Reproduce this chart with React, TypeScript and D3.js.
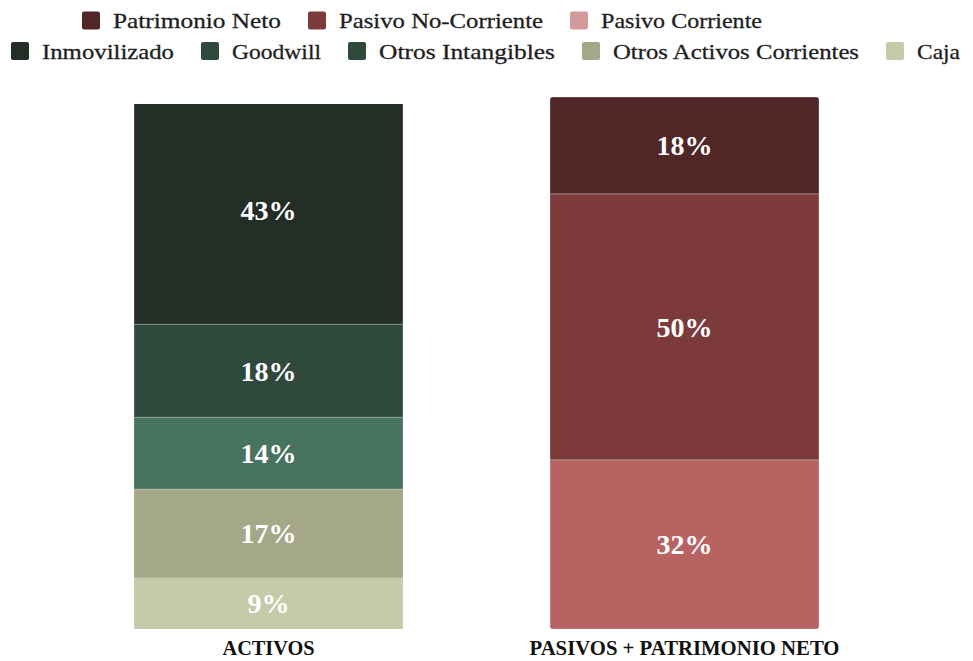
import React from "react";
import * as d3 from "d3";

const categories = ["ACTIVOS", "PASIVOS + PATRIMONIO NETO"];
const categoryLabelWidths = [92, 310];

// stacked bottom -> top
const activosSeries = ["Caja", "Otros Activos Corrientes", "Otros Intangibles", "Goodwill", "Inmovilizado"];
const activosValues = [9.6, 16.7, 13.5, 17.5, 42.7];
const activosLabels = ["9%", "17%", "14%", "18%", "43%"];
const activosColors = ["#c7caa8", "#a5a888", "#48735e", "#2f4a3d", "#222e26"];

const pasivosSeries = ["Pasivo Corriente", "Pasivo No-Corriente", "Patrimonio Neto"];
const pasivosValues = [31.8, 50.0, 18.2];
const pasivosLabels = ["32%", "50%", "18%"];
const pasivosColors = ["#b86362", "#7c3a3b", "#512627"];

const legendRow1 = ["Patrimonio Neto", "Pasivo No-Corriente", "Pasivo Corriente"];
const legendRow1Colors = ["#512627", "#7c3a3b", "#d49a9b"];
const legendRow1Widths = [168, 204, 161];
const legendRow2 = ["Inmovilizado", "Goodwill", "Otros Intangibles", "Otros Activos Corrientes", "Caja"];
const legendRow2Colors = ["#222e26", "#2f4a3d", "#2f4a3d", "#a5a888", "#c7caa8"];
const legendRow2Widths = [132, 89, 176, 246, 43];

const W = 973;
const H = 661;
const FONT = "'Liberation Serif', 'Times New Roman', serif";

function LegendRow({ names, colors, widths, x0, cy }: any) {
  let x = x0;
  const items = names.map((n: string, i: number) => {
    const sx = x;
    const tx = sx + 31;
    x = tx + widths[i] + 27;
    return (
      <g key={n}>
        <rect x={sx} y={cy - 9} width={18} height={18} rx={2} fill={colors[i]} />
        <text
          x={tx}
          y={cy + 7.5}
          fontFamily={FONT}
          fontSize={22}
          fill="#1e1e1e"
          stroke="#1e1e1e"
          strokeWidth={0.3}
          textLength={widths[i]}
          lengthAdjust="spacingAndGlyphs"
        >
          {n}
        </text>
      </g>
    );
  });
  return <g>{items}</g>;
}

export default function App() {
  const x = d3.scaleBand<string>().domain(categories).range([134, 819]).paddingInner(0.3534).paddingOuter(0);
  const y = d3.scaleLinear().domain([0, 100]).range([629, 97]);

  const stacks = [
    { cat: categories[0], values: activosValues, labels: activosLabels, colors: activosColors, topInset: 7, round: 0 },
    { cat: categories[1], values: pasivosValues, labels: pasivosLabels, colors: pasivosColors, topInset: 0, round: 3 },
  ];

  return (
    <svg width={W} height={H} style={{ position: "absolute", left: 0, top: 0 }}>
      <defs>
        {stacks.map((s, si) => {
          const total = d3.sum(s.values);
          return (
            <clipPath id={`clip${si}`} key={si}>
              <rect
                x={x(s.cat)}
                y={y(total) + s.topInset}
                width={x.bandwidth()}
                height={y(0) - y(total) - s.topInset}
                rx={s.round}
              />
            </clipPath>
          );
        })}
      </defs>
      <rect x={0} y={0} width={W} height={H} fill="#ffffff" />
      <LegendRow names={legendRow1} colors={legendRow1Colors} widths={legendRow1Widths} x0={82} cy={20.5} />
      <LegendRow names={legendRow2} colors={legendRow2Colors} widths={legendRow2Widths} x0={11} cy={51} />

      {stacks.map((s, si) => {
        const cum = d3.cumsum(s.values);
        const bx = x(s.cat) as number;
        const bw = x.bandwidth();
        return (
          <g key={s.cat}>
            <g clipPath={`url(#clip${si})`}>
              {s.values.map((v, i) => {
                const y0 = y(cum[i] - v);
                const y1 = y(cum[i]);
                return (
                  <rect
                    key={i}
                    x={bx}
                    y={y1}
                    width={bw}
                    height={y0 - y1}
                    fill={s.colors[i]}
                    stroke="rgba(210,210,210,0.35)"
                    strokeWidth={1}
                  />
                );
              })}
            </g>
            {s.values.map((v, i) => {
              const yc = (y(cum[i] - v) + y(cum[i])) / 2;
              return (
                <text
                  key={"l" + i}
                  x={bx + bw / 2}
                  y={yc}
                  dy="0.35em"
                  textAnchor="middle"
                  fontFamily={FONT}
                  fontWeight="bold"
                  fontSize={28}
                  fill="#ffffff"
                >
                  {s.labels[i]}
                </text>
              );
            })}
            <text
              x={bx + bw / 2}
              y={655}
              textAnchor="middle"
              fontFamily={FONT}
              fontWeight="bold"
              fontSize={20}
              fill="#111111"
              textLength={categoryLabelWidths[si]}
              lengthAdjust="spacingAndGlyphs"
            >
              {s.cat}
            </text>
          </g>
        );
      })}
    </svg>
  );
}
